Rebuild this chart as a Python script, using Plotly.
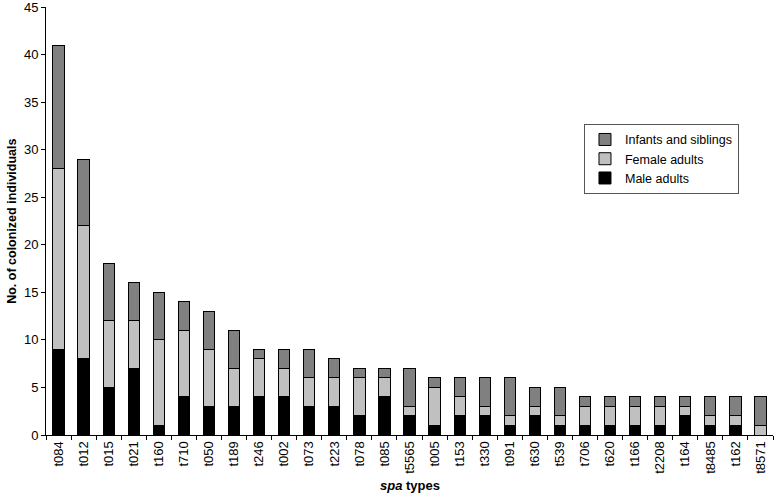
import plotly.graph_objects as go

spa_types = ["t084", "t012", "t015", "t021", "t160", "t710", "t050", "t189", "t246", "t002",
             "t073", "t223", "t078", "t085", "t5565", "t005", "t153", "t330", "t091", "t630",
             "t539", "t706", "t620", "t166", "t2208", "t164", "t8485", "t162", "t8571"]
male_adults = [9, 8, 5, 7, 1, 4, 3, 3, 4, 4, 3, 3, 2, 4, 2, 1, 2, 2, 1, 2, 1, 1, 1, 1, 1, 2, 1, 1, 0]
female_adults = [19, 14, 7, 5, 9, 7, 6, 4, 4, 3, 3, 3, 4, 2, 1, 4, 2, 1, 1, 1, 1, 2, 2, 2, 2, 1, 1, 1, 1]
infants_siblings = [13, 7, 6, 4, 5, 3, 4, 4, 1, 2, 3, 2, 1, 1, 4, 1, 2, 3, 4, 2, 3, 1, 1, 1, 1, 1, 2, 2, 3]

font = "Liberation Sans, Arial, sans-serif"

fig = go.Figure()
for name, vals, col in [("Male adults", male_adults, "#000000"),
                        ("Female adults", female_adults, "#c0c0c0"),
                        ("Infants and siblings", infants_siblings, "#808080")]:
    fig.add_trace(go.Bar(x=spa_types, y=vals, name=name,
                         marker=dict(color=col, line=dict(color="#000000", width=1))))

fig.update_layout(
    barmode="stack", bargap=0.55,
    width=777, height=497,
    margin=dict(l=46, r=4, t=7, b=62),
    paper_bgcolor="white", plot_bgcolor="white",
    font=dict(family=font, size=13, color="black"),
    legend=dict(x=0.74, y=0.727, xanchor="left", yanchor="top",
                bordercolor="#555555", borderwidth=1, traceorder="reversed",
                font=dict(size=12.5), itemwidth=30, tracegroupgap=0),
    xaxis=dict(showline=True, linecolor="black", linewidth=1, ticks="outside",
               tickson="boundaries", ticklen=4, tickangle=-90, tickcolor="black",
               tickfont=dict(size=13), automargin=False),
    yaxis=dict(range=[0, 45], dtick=5, showline=True, linecolor="black", linewidth=1,
               ticks="outside", ticklen=4, tickcolor="black", showgrid=False, zeroline=False,
               tickfont=dict(size=13), automargin=False, ticklabeloverflow="allow"),
)
fig.add_annotation(text="<b>No. of colonized individuals</b>", x=-0.047, y=0.5, xref="paper", yref="paper",
                   xanchor="center", yanchor="middle", textangle=-90, showarrow=False, font=dict(size=12.5))
fig.add_annotation(text="<b><i>spa</i> types</b>", x=0.5, y=-0.117, xref="paper", yref="paper",
                   xanchor="center", yanchor="middle", showarrow=False, font=dict(size=13))

# drop the default 8px page margin so the figure fills the window
fig.write_html("out.html", config={"displayModeBar": False},
               post_script="document.body.style.margin='0';document.body.style.overflow='hidden';")
